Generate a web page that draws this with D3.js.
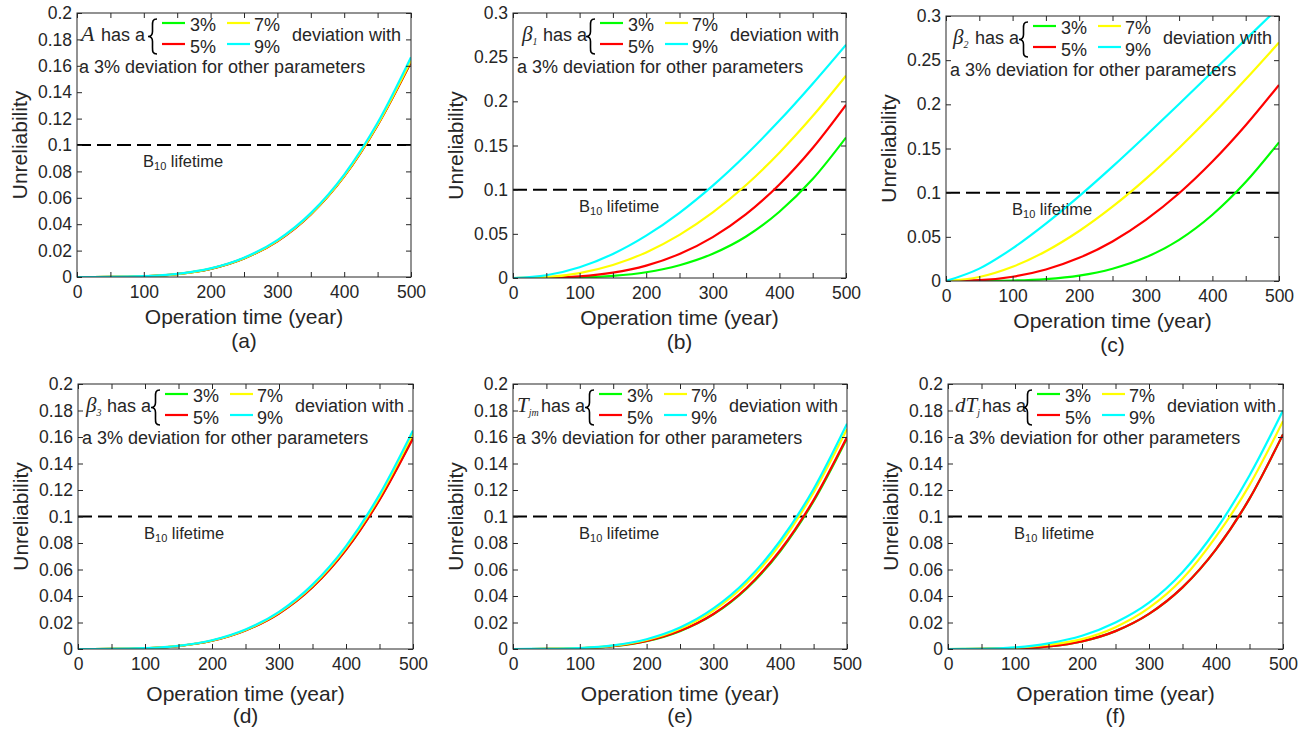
<!DOCTYPE html>
<html>
<head>
<meta charset="utf-8">
<script src="https://cdn.jsdelivr.net/npm/d3@7"></script>
<style>
  body { margin: 0; background: #fff; }
  svg { display: block; }
  text { font-family: "Liberation Sans", Arial, sans-serif; fill: #262626; }
</style>
</head>
<body>
<svg id="fig" width="1315" height="729"></svg>
<script>
// operation time samples (year)
const years = [0, 50, 100, 150, 200, 250, 300, 350, 400, 450, 500];
const xTicks = [0, 50, 100, 150, 200, 250, 300, 350, 400, 450, 500];
const yTicksFine = [0, 0.02, 0.04, 0.06, 0.08, 0.1, 0.12, 0.14, 0.16, 0.18, 0.2];
const yTicksCoarse = [0, 0.05, 0.1, 0.15, 0.2, 0.25, 0.3];
const seriesNames = ["3%", "5%", "7%", "9%"];
const seriesColors = ["#00ff00", "#ff0000", "#ffff00", "#00ffff"];
const captions = ["(a)", "(b)", "(c)", "(d)", "(e)", "(f)"];

// (a) A deviates
const aGreen  = [0, 0.00004, 0.0005, 0.0022, 0.0062, 0.0141, 0.0272, 0.0475, 0.0764, 0.1152, 0.1630];
const aRed    = [0, 0.00004, 0.0005, 0.0022, 0.0062, 0.0141, 0.0271, 0.0474, 0.0762, 0.1150, 0.1628];
const aYellow = [0, 0.00004, 0.0005, 0.0022, 0.0063, 0.0142, 0.0274, 0.0477, 0.0766, 0.1155, 0.1640];
const aCyan   = [0, 0.00005, 0.0006, 0.0024, 0.0065, 0.0146, 0.0279, 0.0484, 0.0776, 0.1168, 0.1665];

// (b) beta1 deviates
const bGreen  = [0, 0.0001, 0.0006, 0.0024, 0.0065, 0.0145, 0.0275, 0.0470, 0.0750, 0.1120, 0.1590];
const bRed    = [0, 0.0002, 0.0018, 0.0060, 0.0140, 0.0271, 0.0463, 0.0723, 0.1059, 0.1472, 0.1960];
const bYellow = [0, 0.0011, 0.0056, 0.0147, 0.0290, 0.0488, 0.0742, 0.1053, 0.1419, 0.1833, 0.2290];
const bCyan   = [0, 0.0031, 0.0122, 0.0272, 0.0479, 0.0738, 0.1046, 0.1396, 0.1782, 0.2200, 0.2640];

// (c) beta2 deviates
const cGreen  = [0, 0.00004, 0.0005, 0.0022, 0.0061, 0.0139, 0.0268, 0.0466, 0.0750, 0.1120, 0.1570];
const cRed    = [0, 0.0009, 0.0048, 0.0130, 0.0262, 0.0448, 0.0692, 0.0993, 0.1352, 0.1763, 0.2220];
const cYellow = [0, 0.0045, 0.0161, 0.0337, 0.0566, 0.0841, 0.1156, 0.1506, 0.1884, 0.2284, 0.2700];
const cCyan   = [0, 0.0140, 0.0370, 0.0650, 0.0961, 0.1295, 0.1645, 0.2004, 0.2368, 0.2735, 0.3100];

// (d) beta3 deviates
const dGreen  = [0, 0.00004, 0.0005, 0.0022, 0.0062, 0.0141, 0.0269, 0.0468, 0.0750, 0.1128, 0.1595];
const dRed    = [0, 0.00004, 0.0005, 0.0022, 0.0062, 0.0140, 0.0268, 0.0466, 0.0748, 0.1125, 0.1590];
const dYellow = [0, 0.00005, 0.0005, 0.0023, 0.0064, 0.0144, 0.0275, 0.0478, 0.0766, 0.1150, 0.1630];
const dCyan   = [0, 0.00005, 0.0006, 0.0024, 0.0066, 0.0147, 0.0280, 0.0486, 0.0777, 0.1165, 0.1650];

// (e) Tjm deviates
const eGreen  = [0, 0.00004, 0.0005, 0.0021, 0.0059, 0.0135, 0.0261, 0.0457, 0.0738, 0.1115, 0.1590];
const eRed    = [0, 0.00004, 0.0005, 0.0021, 0.0060, 0.0137, 0.0264, 0.0462, 0.0745, 0.1124, 0.1600];
const eYellow = [0, 0.00005, 0.0006, 0.0025, 0.0068, 0.0152, 0.0290, 0.0498, 0.0792, 0.1182, 0.1660];
const eCyan   = [0, 0.00006, 0.0007, 0.0027, 0.0074, 0.0162, 0.0306, 0.0519, 0.0817, 0.1208, 0.1700];

// (f) dTj deviates
const fGreen  = [0, 0.00003, 0.0004, 0.0020, 0.0058, 0.0135, 0.0265, 0.0465, 0.0752, 0.1135, 0.1620];
const fRed    = [0, 0.00003, 0.0004, 0.0020, 0.0058, 0.0135, 0.0265, 0.0465, 0.0752, 0.1135, 0.1620];
const fYellow = [0, 0.00008, 0.0008, 0.0032, 0.0075, 0.0165, 0.0310, 0.0530, 0.0848, 0.1237, 0.1720];
const fCyan   = [0, 0.00013, 0.0012, 0.0043, 0.0100, 0.0200, 0.0350, 0.0580, 0.0900, 0.1310, 0.1800];

// panel layout
const panels = [
  {box: [77, 13, 411, 277],   yMax: 0.2, yTicks: yTicksFine,   series: [aGreen, aRed, aYellow, aCyan],
   sym: [{t: "A", size: 22}], symX: 6, hasX: 26, dx: -2},
  {box: [513, 13, 846, 278],  yMax: 0.3, yTicks: yTicksCoarse, series: [bGreen, bRed, bYellow, bCyan],
   sym: [{t: "β", size: 21}, {t: "1", size: 10, sub: true}], symX: 9, hasX: 30, dx: 0},
  {box: [946, 16, 1279, 281], yMax: 0.3, yTicks: yTicksCoarse, series: [cGreen, cRed, cYellow, cCyan],
   sym: [{t: "β", size: 21}, {t: "2", size: 10, sub: true}], symX: 7, hasX: 29, dx: 0},
  {box: [78, 384, 413, 649],  yMax: 0.2, yTicks: yTicksFine,   series: [dGreen, dRed, dYellow, dCyan],
   sym: [{t: "β", size: 21}, {t: "3", size: 10, sub: true}], symX: 8, hasX: 29, dx: 0},
  {box: [513, 384, 847, 649], yMax: 0.2, yTicks: yTicksFine,   series: [eGreen, eRed, eYellow, eCyan],
   sym: [{t: "T", size: 21}, {t: "jm", size: 10, sub: true}], symX: 5, hasX: 29, dx: -1},
  {box: [948, 384, 1283, 649], yMax: 0.2, yTicks: yTicksFine,  series: [fGreen, fRed, fYellow, fCyan],
   sym: [{t: "dT", size: 21}, {t: "j", size: 10, sub: true}], symX: 5, hasX: 32, dx: 2}
];

const svg = d3.select("#fig");
const axisColor = "#262626";

panels.forEach((p, pi) => {
  const [x0, y0, x1, y1] = p.box;
  const x = d3.scaleLinear().domain([0, 500]).range([x0, x1]);
  const y = d3.scaleLinear().domain([0, p.yMax]).range([y1, y0]);
  const g = svg.append("g");

  // clip area
  const clipId = "clip" + pi;
  svg.append("clipPath").attr("id", clipId)
    .append("rect").attr("x", x0).attr("y", y0).attr("width", x1 - x0).attr("height", y1 - y0);

  // B10 line
  g.append("line")
    .attr("x1", x0).attr("x2", x1).attr("y1", y(0.1)).attr("y2", y(0.1))
    .attr("stroke", "#000").attr("stroke-width", 2).attr("stroke-dasharray", "14,6");

  // curves
  const line = d3.line().x((d, i) => x(years[i])).y(d => y(d)).curve(d3.curveMonotoneX);
  p.series.forEach((s, si) => {
    g.append("path").datum(s)
      .attr("d", line)
      .attr("fill", "none")
      .attr("stroke", seriesColors[si])
      .attr("stroke-width", 2.2)
      .attr("clip-path", "url(#" + clipId + ")");
  });

  // axes
  const fmt = d3.format("~g");
  const left = g.append("g").attr("transform", `translate(${x0},0)`)
    .call(d3.axisLeft(y).tickValues(p.yTicks).tickSizeInner(-5).tickSizeOuter(0).tickPadding(5).tickFormat(fmt));
  const right = g.append("g").attr("transform", `translate(${x1},0)`)
    .call(d3.axisRight(y).tickValues(p.yTicks).tickSizeInner(-5).tickSizeOuter(0).tickFormat(""));
  const bottom = g.append("g").attr("transform", `translate(0,${y1})`)
    .call(d3.axisBottom(x).tickValues(xTicks).tickSizeInner(-5).tickSizeOuter(0).tickPadding(9)
      .tickFormat(d => d % 100 === 0 ? d : ""));
  const top = g.append("g").attr("transform", `translate(0,${y0})`)
    .call(d3.axisTop(x).tickValues(xTicks).tickSizeInner(-5).tickSizeOuter(0).tickFormat(""));
  [left, right, bottom, top].forEach(a => {
    a.select(".domain").remove();
    a.selectAll("line").attr("stroke", axisColor);
    a.selectAll("text").attr("font-size", 17.5).attr("fill", axisColor)
      .attr("font-family", "Liberation Sans, Arial, sans-serif");
  });
  g.append("rect")
    .attr("x", x0).attr("y", y0).attr("width", x1 - x0).attr("height", y1 - y0)
    .attr("fill", "none").attr("stroke", axisColor).attr("stroke-width", 1);

  // axis titles
  const isTop = y0 < 100;
  g.append("text")
    .attr("x", (x0 + x1) / 2).attr("y", y1 + (isTop ? 47 : 52))
    .attr("text-anchor", "middle").attr("font-size", 21)
    .text("Operation time (year)");
  g.append("text")
    .attr("transform", `translate(${x0 - 50},${(y0 + y1) / 2}) rotate(-90)`)
    .attr("text-anchor", "middle").attr("font-size", 21)
    .text("Unreliability");
  g.append("text")
    .attr("x", (x0 + x1) / 2).attr("y", y1 + (isTop ? 71 : 74))
    .attr("text-anchor", "middle").attr("font-size", 21)
    .text(captions[pi]);

  // B10 lifetime label
  const b10 = g.append("text")
    .attr("x", x0 + 66).attr("y", y(0.1) + 22)
    .attr("font-size", 16.5).attr("fill", "#262626");
  b10.append("tspan").text("B");
  b10.append("tspan").attr("font-size", 11).attr("dy", 3).text("10");
  b10.append("tspan").attr("dy", -3).text(" lifetime");

  // legend / annotation
  const lx = x0 + p.dx;
  const sym = g.append("text").attr("x", lx + p.symX).attr("y", y0 + 28).attr("fill", "#000");
  p.sym.forEach(s => {
    const ts = sym.append("tspan")
      .attr("font-family", "Liberation Serif, Times New Roman, serif")
      .attr("font-style", "italic")
      .attr("font-size", s.size)
      .text(s.t);
    if (s.sub) ts.attr("dy", 4);
  });
  g.append("text").attr("x", lx + p.hasX).attr("y", y0 + 28)
    .attr("font-size", 18).text("has a");

  // curly brace
  const bx = lx + 82, bt = y0 + 6, bb = y0 + 41, bm = (bt + bb) / 2, w = 9;
  const brace = `M${bx},${bt} C${bx - w * 0.55},${bt} ${bx - w * 0.5},${bt + 3} ${bx - w * 0.5},${bt + 8}
    L${bx - w * 0.5},${bm - 5} C${bx - w * 0.5},${bm - 1} ${bx - w * 0.8},${bm} ${bx - w},${bm}
    C${bx - w * 0.8},${bm} ${bx - w * 0.5},${bm + 1} ${bx - w * 0.5},${bm + 5}
    L${bx - w * 0.5},${bb - 8} C${bx - w * 0.5},${bb - 3} ${bx - w * 0.55},${bb} ${bx},${bb}`;
  g.append("path").attr("d", brace).attr("fill", "none").attr("stroke", "#000").attr("stroke-width", 1.6);

  const legendPos = [[87, 10, 115, 18], [87, 31, 115, 40], [152, 10, 179, 18], [152, 31, 179, 40]];
  seriesNames.forEach((name, si) => {
    const [lx0, ly, tx, ty] = legendPos[si];
    g.append("line")
      .attr("x1", lx + lx0).attr("x2", lx + lx0 + 23)
      .attr("y1", y0 + ly).attr("y2", y0 + ly)
      .attr("stroke", seriesColors[si]).attr("stroke-width", 2.2);
    g.append("text").attr("x", lx + tx).attr("y", y0 + ty)
      .attr("font-size", 18).text(name);
  });
  g.append("text").attr("x", lx + 217).attr("y", y0 + 28)
    .attr("font-size", 18).text("deviation with");
  g.append("text").attr("x", lx + 4).attr("y", y0 + 60)
    .attr("font-size", 18).text("a 3% deviation for other parameters");
});
</script>
</body>
</html>
